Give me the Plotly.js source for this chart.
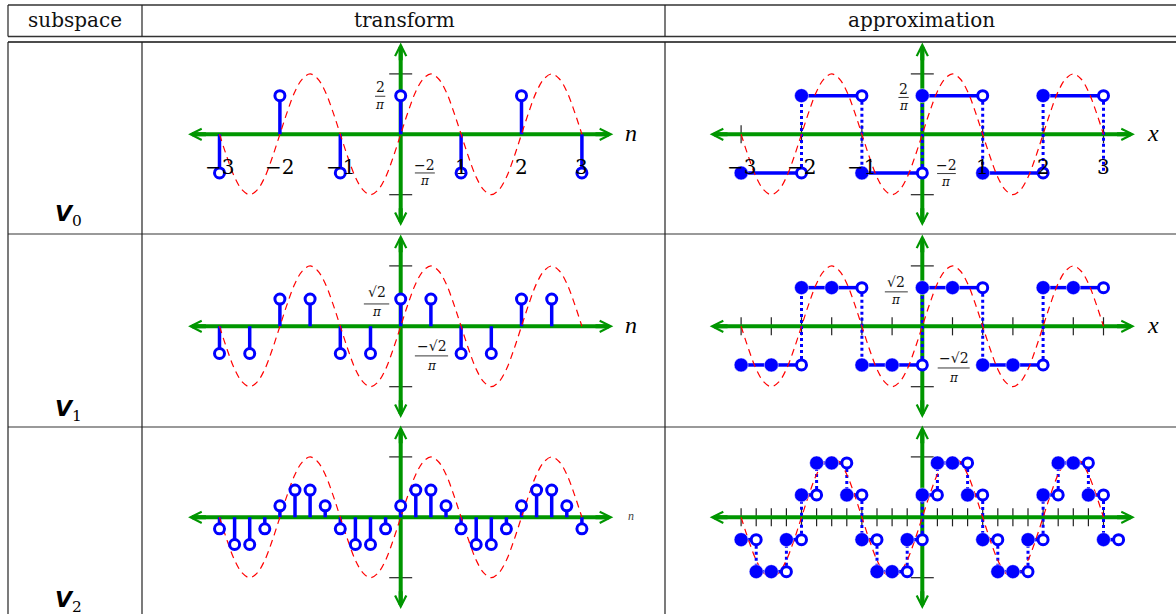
<!DOCTYPE html>
<html>
<head>
<meta charset="utf-8">
<script src="https://cdn.plot.ly/plotly-3.0.1.min.js"></script>
<style>
  html, body { margin: 0; padding: 0; background: #fff; }
  #chart { width: 1176px; height: 614px; }
</style>
</head>
<body>
<div id="chart"></div>
<script>
// transform coefficients (stem plots)
const nV0 = [-3, -2, -1, 0, 1, 2, 3];
const cV0 = [-0.64, 0.64, -0.64, 0.64, -0.64, 0.64, -0.64];
const nV1 = [-3, -2.5, -2, -1.5, -1, -0.5, 0, 0.5, 1, 1.5, 2, 2.5];
const cV1 = [-0.45, -0.45, 0.45, 0.45, -0.45, -0.45, 0.45, 0.45, -0.45, -0.45, 0.45, 0.45];
const nV2 = [-3, -2.75, -2.5, -2.25, -2, -1.75, -1.5, -1.25, -1, -0.75, -0.5, -0.25, 0,
             0.25, 0.5, 0.75, 1, 1.25, 1.5, 1.75, 2, 2.25, 2.5, 2.75, 3];
const cV2 = [-0.19, -0.45, -0.45, -0.19, 0.19, 0.45, 0.45, 0.19,
             -0.19, -0.45, -0.45, -0.19, 0.19, 0.45, 0.45, 0.19,
             -0.19, -0.45, -0.45, -0.19, 0.19, 0.45, 0.45, 0.19, -0.19];

// approximations (piecewise constant, segment start + level)
const aStartV0 = [-3, -2, -1, 0, 1, 2];
const aLevelV0 = [-0.64, 0.64, -0.64, 0.64, -0.64, 0.64];
const aWidthV0 = 1;
const aTailV0 = -0.64;
const aStartV1 = nV1;
const aLevelV1 = [-0.64, -0.64, 0.64, 0.64, -0.64, -0.64, 0.64, 0.64, -0.64, -0.64, 0.64, 0.64];
const aWidthV1 = 0.5;
const aStartV2 = nV2;
const aLevelV2 = [-0.37, -0.9, -0.9, -0.37, 0.37, 0.9, 0.9, 0.37,
                  -0.37, -0.9, -0.9, -0.37, 0.37, 0.9, 0.9, 0.37,
                  -0.37, -0.9, -0.9, -0.37, 0.37, 0.9, 0.9, 0.37, -0.37];
const aWidthV2 = 0.25;

// x tick positions on the approximation axes
const tickV0 = [-3, -2, -1, 0, 1, 2, 3];
const tickV1 = [-3, -2.5, -2, -1.5, -1, -0.5, 0, 0.5, 1, 1.5, 2, 2.5, 3];
const tickV2 = nV2;
const tickLabels = ['−3', '−2', '−1', '1', '2', '3'];
const tickLabelPos = [-3, -2, -1, 1, 2, 3];

// the dashed signal
const sineX = [-3, -2.875, -2.75, -2.625, -2.5, -2.375, -2.25, -2.125,
               -2, -1.875, -1.75, -1.625, -1.5, -1.375, -1.25, -1.125,
               -1, -0.875, -0.75, -0.625, -0.5, -0.375, -0.25, -0.125,
               0, 0.125, 0.25, 0.375, 0.5, 0.625, 0.75, 0.875,
               1, 1.125, 1.25, 1.375, 1.5, 1.625, 1.75, 1.875,
               2, 2.125, 2.25, 2.375, 2.5, 2.625, 2.75, 2.875, 3];
const sineY = [0, -0.38, -0.71, -0.92, -1, -0.92, -0.71, -0.38,
               0, 0.38, 0.71, 0.92, 1, 0.92, 0.71, 0.38,
               0, -0.38, -0.71, -0.92, -1, -0.92, -0.71, -0.38,
               0, 0.38, 0.71, 0.92, 1, 0.92, 0.71, 0.38,
               0, -0.38, -0.71, -0.92, -1, -0.92, -0.71, -0.38,
               0, 0.38, 0.71, 0.92, 1, 0.92, 0.71, 0.38, 0];

const W = 1176, H = 614, PX = 60.4;
const BLUE = '#0000ff', GREEN = 'rgb(0,150,0)', RED = '#ff0000';
const SERIF = 'DejaVu Serif, serif';

// cells in pixels: columns [left, right, zero], rows [top, bottom, zero]
const cols = [[142, 665, 400.7], [665, 1176, 922.3]];
const rows = [[42, 234, 134.3], [234, 427, 326.3], [427, 614, 517.3]];

const layout = {
  width: W, height: H,
  margin: { l: 0, r: 0, t: 0, b: 0 },
  paper_bgcolor: '#fff', plot_bgcolor: 'rgba(0,0,0,0)',
  showlegend: false,
  shapes: [], annotations: []
};

function axId(r, c) { return 2 * r + c + 1; }
for (let r = 0; r < 3; r++) {
  for (let c = 0; c < 2; c++) {
    const i = axId(r, c);
    const [x0, x1, xz] = cols[c];
    const [y0, y1, yz] = rows[r];
    layout['xaxis' + (i === 1 ? '' : i)] = {
      domain: [x0 / W, x1 / W], range: [(x0 - xz) / PX, (x1 - xz) / PX],
      visible: false, fixedrange: true, anchor: 'y' + (i === 1 ? '' : i)
    };
    layout['yaxis' + (i === 1 ? '' : i)] = {
      domain: [1 - y1 / H, 1 - y0 / H], range: [-(y1 - yz) / PX, (yz - y0) / PX],
      visible: false, fixedrange: true, anchor: 'x' + (i === 1 ? '' : i)
    };
  }
}
function refs(i) { return { xa: 'x' + (i === 1 ? '' : i), ya: 'y' + (i === 1 ? '' : i) }; }

const traces = [];

function axesFor(i, xticks, axisName, nameSize) {
  const { xa, ya } = refs(i);
  // ticks first so the green axes lie over them
  (xticks || []).forEach(t => layout.shapes.push({
    type: 'line', xref: xa, yref: ya, x0: t, x1: t, y0: -0.15, y1: 0.15,
    line: { color: '#222', width: 1.2 }, layer: 'below'
  }));
  [-1, 1].forEach(v => layout.shapes.push({
    type: 'line', xref: xa, yref: ya, x0: -0.19, x1: 0.19, y0: v, y1: v,
    line: { color: '#222', width: 1.2 }, layer: 'below'
  }));
  layout.shapes.push({ type: 'line', xref: xa, yref: ya, x0: -3.45, x1: 3.45, y0: 0, y1: 0,
    line: { color: GREEN, width: 4 }, layer: 'below' });
  layout.shapes.push({ type: 'line', xref: xa, yref: ya, x0: 0, x1: 0, y0: -1.45, y1: 1.45,
    line: { color: GREEN, width: 4 }, layer: 'below' });
  const heads = [[3.52, 0, 3.2, 0], [-3.52, 0, -3.2, 0], [0, 1.52, 0, 1.2], [0, -1.52, 0, -1.2]];
  heads.forEach(([x, y, ax, ay]) => layout.annotations.push({
    xref: xa, yref: ya, axref: xa, ayref: ya, x, y, ax, ay, text: '',
    showarrow: true, arrowhead: 5, arrowsize: 0.55, arrowwidth: 4, arrowcolor: GREEN, standoff: 0
  }));
  if (axisName) layout.annotations.push({
    xref: xa, yref: ya, x: 3.82, y: 0.02, text: '<i>' + axisName + '</i>', showarrow: false,
    xanchor: 'center', yanchor: 'middle',
    font: { family: 'Liberation Serif, serif', size: nameSize, color: nameSize < 16 ? '#444' : '#000' }
  });
}

function sineFor(i) {
  const { xa, ya } = refs(i);
  traces.push({ x: sineX, y: sineY, xaxis: xa, yaxis: ya, mode: 'lines', hoverinfo: 'skip',
    line: { color: RED, width: 1.2, dash: '7px,5px', shape: 'spline' } });
}

function stemsFor(i, ns, cs) {
  const { xa, ya } = refs(i);
  const sx = [], sy = [];
  ns.forEach((n, k) => { sx.push(n, n, null); sy.push(0, cs[k], null); });
  traces.push({ x: sx, y: sy, xaxis: xa, yaxis: ya, mode: 'lines', hoverinfo: 'skip',
    line: { color: BLUE, width: 3.5 } });
  sineFor(i);
  traces.push({ x: ns, y: cs, xaxis: xa, yaxis: ya, mode: 'markers', hoverinfo: 'skip',
    marker: { symbol: 'circle', size: 10, color: '#fff', line: { color: BLUE, width: 3 } } });
}

function approxFor(i, starts, levels, w, tail) {
  const { xa, ya } = refs(i);
  const hx = [], hy = [], dx = [], dy = [], ox = [], oy = [];
  starts.forEach((s, k) => {
    const e = s + w, v = levels[k];
    hx.push(s, e, null); hy.push(v, v, null);
    const next = k + 1 < levels.length ? levels[k + 1] : tail;
    if (next !== v) { ox.push(e); oy.push(v); }
    if (next !== undefined && next !== v) { dx.push(e, e, null); dy.push(v, next, null); }
  });
  traces.push({ x: dx, y: dy, xaxis: xa, yaxis: ya, mode: 'lines', hoverinfo: 'skip',
    line: { color: BLUE, width: 3, dash: 'dot' } });
  traces.push({ x: hx, y: hy, xaxis: xa, yaxis: ya, mode: 'lines', hoverinfo: 'skip',
    line: { color: BLUE, width: 3.5 } });
  sineFor(i);
  traces.push({ x: ox, y: oy, xaxis: xa, yaxis: ya, mode: 'markers', hoverinfo: 'skip',
    marker: { symbol: 'circle', size: 10, color: '#fff', line: { color: BLUE, width: 3 } } });
  traces.push({ x: starts, y: levels, xaxis: xa, yaxis: ya, mode: 'markers', hoverinfo: 'skip',
    marker: { symbol: 'circle', size: 14, color: BLUE, line: { color: '#fff', width: 0.5 } } });
}

function frac(i, cx, by, num, den, w, up, down) {
  const { xa, ya } = refs(i);
  layout.shapes.push({ type: 'line', xref: xa, yref: ya, x0: cx - w / 2, x1: cx + w / 2, y0: by, y1: by,
    line: { color: '#222', width: 0.9 } });
  layout.annotations.push({ xref: xa, yref: ya, x: cx, y: by + up, text: num, showarrow: false,
    xanchor: 'center', yanchor: 'middle', font: { family: SERIF, size: 14, color: '#111' } });
  layout.annotations.push({ xref: xa, yref: ya, x: cx, y: by - down, text: '<i>' + den + '</i>',
    showarrow: false, xanchor: 'center', yanchor: 'middle',
    font: { family: SERIF, size: 12, color: '#111' } });
}

function tickText(i) {
  const { xa, ya } = refs(i);
  tickLabelPos.forEach((t, k) => layout.annotations.push({
    xref: xa, yref: ya, x: t, y: -0.54, text: tickLabels[k], showarrow: false,
    xanchor: 'center', yanchor: 'middle',
    font: { family: SERIF, size: 20, color: '#000' }
  }));
}

// row V0
axesFor(1, null, 'n', 24);
stemsFor(1, nV0, cV0);
tickText(1);
frac(1, -0.34, 0.63, '2', 'π', 0.17, 0.15, 0.15);
frac(1, 0.40, -0.64, '−2', 'π', 0.33, 0.14, 0.14);
axesFor(2, tickV0, 'x', 24);
approxFor(2, aStartV0, aLevelV0, aWidthV0, aTailV0);
tickText(2);
frac(2, -0.31, 0.61, '2', 'π', 0.17, 0.14, 0.14);
frac(2, 0.40, -0.65, '−2', 'π', 0.31, 0.14, 0.14);

// row V1
axesFor(3, null, 'n', 24);
stemsFor(3, nV1, cV1);
frac(3, -0.40, 0.37, '√2', 'π', 0.42, 0.2, 0.14);
frac(3, 0.51, -0.49, '−√2', 'π', 0.55, 0.17, 0.16);
axesFor(4, tickV1, 'x', 24);
approxFor(4, aStartV1, aLevelV1, aWidthV1);
frac(4, -0.43, 0.57, '√2', 'π', 0.38, 0.17, 0.13);
frac(4, 0.52, -0.69, '−√2', 'π', 0.53, 0.16, 0.17);

// row V2
axesFor(5, null, 'n', 12);
stemsFor(5, nV2, cV2);
axesFor(6, tickV2, null, 0);
approxFor(6, aStartV2, aLevelV2, aWidthV2);

// table rules
function hline(y, x0, color, width) {
  layout.shapes.push({ type: 'line', xref: 'paper', yref: 'paper', x0: x0 / W, x1: 1,
    y0: 1 - y / H, y1: 1 - y / H, line: { color, width } });
}
function vline(x, y0, y1) {
  layout.shapes.push({ type: 'line', xref: 'paper', yref: 'paper', x0: x / W, x1: x / W,
    y0: 1 - y0 / H, y1: 1 - y1 / H, line: { color: '#222', width: 1.2 } });
}
hline(5, 8, '#333', 1.3);
hline(36.5, 8, '#333', 1.3);
hline(42, 8, '#111', 1.3);
hline(234, 8, '#777', 1.4);
hline(427, 8, '#777', 1.4);
[8, 142, 665].forEach(x => { vline(x, 5, 36.5); vline(x, 42, 614); });

const headers = [['subspace', 75], ['transform', 404], ['approximation', 921]];
headers.forEach(([t, x]) => layout.annotations.push({
  xref: 'paper', yref: 'paper', x: x / W, y: 1 - 20 / H, text: t, showarrow: false,
  xanchor: 'center', yanchor: 'middle',
  font: { family: SERIF, size: 20, color: '#111' }
}));
const subs = [['0', 216], ['1', 410], ['2', 601]];
subs.forEach(([s, y]) => layout.annotations.push({
  xref: 'paper', yref: 'paper', x: 68 / W, y: 1 - y / H, showarrow: false,
  xanchor: 'center', yanchor: 'middle',
  text: '<b><i>V</i></b><sub><span style="font-family:DejaVu Serif">' + s + '</span></sub>',
  font: { family: 'DejaVu Sans, sans-serif', size: 22, color: '#000' }
}));

Plotly.newPlot('chart', traces, layout, { staticPlot: true, displayModeBar: false });
</script>
</body>
</html>
